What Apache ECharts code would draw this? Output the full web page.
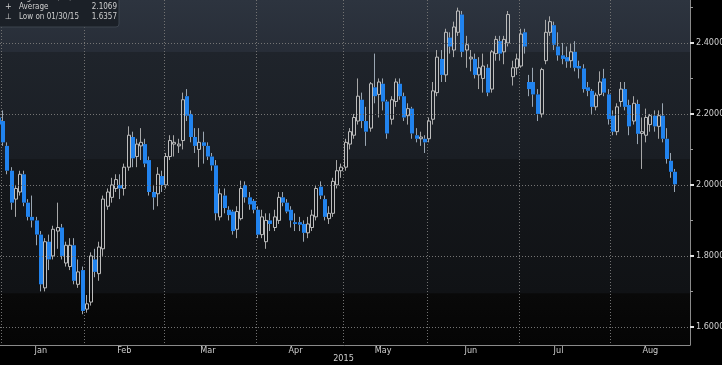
<!DOCTYPE html>
<html>
<head>
<meta charset="utf-8">
<script src="https://cdn.jsdelivr.net/npm/echarts@6/dist/echarts.min.js"></script>
<style>
html,body{margin:0;padding:0;background:#000;}
#chart{width:722px;height:365px;}
</style>
</head>
<body>
<div id="chart"></div>
<script>
// ---- data (daily candles, 2015) ----
const dates = ['2014-12-31',
'2015-01-02','2015-01-05','2015-01-06','2015-01-07','2015-01-08','2015-01-09','2015-01-12','2015-01-13','2015-01-14','2015-01-15','2015-01-16','2015-01-20','2015-01-21','2015-01-22','2015-01-23','2015-01-26','2015-01-27','2015-01-28','2015-01-29','2015-01-30',
'2015-02-02','2015-02-03','2015-02-04','2015-02-05','2015-02-06','2015-02-09','2015-02-10','2015-02-11','2015-02-12','2015-02-13','2015-02-17','2015-02-18','2015-02-19','2015-02-20','2015-02-23','2015-02-24','2015-02-25','2015-02-26','2015-02-27',
'2015-03-02','2015-03-03','2015-03-04','2015-03-05','2015-03-06','2015-03-09','2015-03-10','2015-03-11','2015-03-12','2015-03-13','2015-03-16','2015-03-17','2015-03-18','2015-03-19','2015-03-20','2015-03-23','2015-03-24','2015-03-25','2015-03-26','2015-03-27','2015-03-30','2015-03-31',
'2015-04-01','2015-04-02','2015-04-06','2015-04-07','2015-04-08','2015-04-09','2015-04-10','2015-04-13','2015-04-14','2015-04-15','2015-04-16','2015-04-17','2015-04-20','2015-04-21','2015-04-22','2015-04-23','2015-04-24','2015-04-27','2015-04-28','2015-04-29','2015-04-30',
'2015-05-01','2015-05-04','2015-05-05','2015-05-06','2015-05-07','2015-05-08','2015-05-11','2015-05-12','2015-05-13','2015-05-14','2015-05-15','2015-05-18','2015-05-19','2015-05-20','2015-05-21','2015-05-22','2015-05-26','2015-05-27','2015-05-28','2015-05-29',
'2015-06-01','2015-06-02','2015-06-03','2015-06-04','2015-06-05','2015-06-08','2015-06-09','2015-06-10','2015-06-11','2015-06-12','2015-06-15','2015-06-16','2015-06-17','2015-06-18','2015-06-19','2015-06-22','2015-06-23','2015-06-24','2015-06-25','2015-06-26','2015-06-29','2015-06-30',
'2015-07-01','2015-07-02','2015-07-06','2015-07-07','2015-07-08','2015-07-09','2015-07-10','2015-07-13','2015-07-14','2015-07-15','2015-07-16','2015-07-17','2015-07-20','2015-07-21','2015-07-22','2015-07-23','2015-07-24','2015-07-27','2015-07-28','2015-07-29','2015-07-30','2015-07-31',
'2015-08-03','2015-08-04','2015-08-05','2015-08-06','2015-08-07','2015-08-10','2015-08-11','2015-08-12','2015-08-13','2015-08-14','2015-08-17','2015-08-18','2015-08-19','2015-08-20','2015-08-21','2015-08-24'];

const opens = [2.19,
2.18,2.11,2.04,1.96,1.98,2.03,1.95,1.91,1.90,1.86,1.71,1.84,1.80,1.87,1.88,1.78,1.77,1.83,1.72,1.76,
1.65,1.67,1.79,1.75,1.82,1.94,1.965,1.99,2.00,1.99,2.05,2.135,2.08,2.11,2.115,2.07,1.98,1.975,2.025,
2.00,2.08,2.115,2.11,2.125,2.25,2.20,2.135,2.10,2.12,2.11,2.08,2.055,1.91,1.97,1.93,1.925,1.875,1.905,2.00,1.965,1.955,
1.93,1.86,1.84,1.90,1.88,1.90,1.965,1.95,1.93,1.895,1.895,1.89,1.865,1.88,1.91,1.995,1.96,1.905,1.92,2.00,2.04,
2.05,2.115,2.14,2.18,2.24,2.18,2.16,2.275,2.255,2.285,2.235,2.185,2.235,2.285,2.25,2.195,2.215,2.14,2.13,2.13,
2.13,2.185,2.26,2.355,2.31,2.415,2.38,2.43,2.48,2.38,2.355,2.355,2.31,2.30,2.33,2.27,2.37,2.405,2.375,2.40,2.305,2.33,
2.335,2.43,2.29,2.29,2.255,2.20,2.35,2.43,2.45,2.39,2.365,2.36,2.35,2.375,2.335,2.328,2.275,2.265,2.22,2.255,2.30,2.255,
2.195,2.15,2.235,2.27,2.225,2.18,2.228,2.145,2.14,2.17,2.195,2.165,2.195,2.13,2.068,2.037];

const highs = [2.21,
2.21,2.12,2.05,2.00,2.04,2.04,1.96,1.97,1.91,1.87,1.85,1.86,1.885,1.95,1.89,1.84,1.85,1.85,1.79,1.77,
1.69,1.81,1.82,1.84,1.97,1.99,2.02,2.03,2.03,2.06,2.165,2.15,2.13,2.16,2.13,2.08,2.00,2.05,2.04,
2.09,2.14,2.14,2.13,2.26,2.27,2.21,2.16,2.16,2.15,2.12,2.09,2.07,1.99,1.99,1.94,1.93,1.94,2.012,2.01,1.98,1.96,
1.94,1.93,1.92,1.92,1.93,1.98,1.98,1.96,1.94,1.92,1.91,1.90,1.91,1.93,2.00,2.01,1.97,1.94,2.02,2.07,2.06,
2.13,2.16,2.20,2.30,2.26,2.22,2.29,2.37,2.30,2.30,2.24,2.25,2.30,2.30,2.26,2.23,2.22,2.16,2.15,2.14,
2.19,2.29,2.38,2.38,2.44,2.43,2.46,2.4995,2.49,2.42,2.38,2.37,2.36,2.37,2.34,2.38,2.42,2.42,2.42,2.49,2.35,2.37,
2.44,2.44,2.31,2.33,2.27,2.33,2.465,2.475,2.46,2.43,2.40,2.39,2.40,2.405,2.35,2.34,2.29,2.27,2.26,2.32,2.327,2.27,
2.21,2.23,2.29,2.29,2.24,2.25,2.24,2.19,2.215,2.20,2.21,2.21,2.23,2.16,2.09,2.045];

const lows = [2.16,
2.11,2.03,1.93,1.91,1.97,1.94,1.90,1.88,1.83,1.70,1.70,1.76,1.79,1.82,1.79,1.77,1.76,1.72,1.71,1.6357,
1.64,1.66,1.74,1.73,1.80,1.93,1.95,1.98,1.96,1.97,2.04,2.05,2.05,2.07,2.05,1.97,1.93,1.94,1.98,
1.99,2.07,2.08,2.09,2.10,2.18,2.12,2.09,2.05,2.06,2.07,2.04,1.90,1.90,1.92,1.90,1.86,1.85,1.90,1.95,1.93,1.92,
1.85,1.85,1.82,1.87,1.87,1.89,1.94,1.92,1.88,1.87,1.87,1.84,1.85,1.87,1.90,1.96,1.90,1.89,1.91,1.99,2.02,
2.04,2.10,2.13,2.17,2.16,2.11,2.15,2.23,2.19,2.21,2.13,2.17,2.22,2.24,2.18,2.17,2.13,2.12,2.11,2.09,
2.12,2.17,2.25,2.29,2.29,2.37,2.36,2.42,2.36,2.33,2.32,2.30,2.27,2.26,2.25,2.26,2.35,2.35,2.34,2.39,2.28,2.31,
2.33,2.37,2.25,2.22,2.18,2.19,2.34,2.42,2.38,2.35,2.34,2.33,2.33,2.32,2.30,2.26,2.25,2.20,2.21,2.25,2.25,2.17,
2.14,2.14,2.22,2.21,2.14,2.17,2.115,2.045,2.12,2.15,2.15,2.13,2.12,2.06,2.02,1.98];

const closes = [2.17,
2.12,2.04,1.95,1.99,2.03,1.95,1.91,1.90,1.86,1.72,1.84,1.79,1.875,1.88,1.80,1.83,1.83,1.73,1.755,1.645,
1.665,1.80,1.755,1.825,1.96,1.98,2.00,2.015,1.99,2.05,2.14,2.075,2.115,2.12,2.06,1.98,1.965,2.03,2.00,
2.08,2.125,2.12,2.115,2.24,2.195,2.135,2.11,2.12,2.11,2.08,2.055,1.92,1.975,1.935,1.915,1.87,1.925,1.99,1.965,1.945,1.93,
1.86,1.91,1.90,1.89,1.91,1.965,1.95,1.925,1.90,1.89,1.888,1.865,1.89,1.915,1.99,1.97,1.91,1.92,2.01,2.04,2.05,
2.12,2.15,2.19,2.25,2.18,2.15,2.285,2.25,2.29,2.235,2.145,2.24,2.29,2.25,2.19,2.215,2.145,2.13,2.135,2.12,
2.18,2.265,2.36,2.31,2.43,2.39,2.445,2.49,2.375,2.395,2.36,2.31,2.33,2.335,2.26,2.375,2.41,2.37,2.41,2.48,2.33,2.355,
2.425,2.39,2.27,2.255,2.20,2.325,2.43,2.46,2.395,2.365,2.355,2.348,2.375,2.33,2.328,2.27,2.265,2.22,2.253,2.29,2.26,2.185,
2.15,2.22,2.27,2.22,2.165,2.23,2.144,2.15,2.19,2.195,2.165,2.195,2.13,2.073,2.037,2.0017];

const monthNames = ['Jan','Feb','Mar','Apr','May','Jun','Jul','Aug'];
const monthLabelDates = ['2015-01-15','2015-02-13','2015-03-16','2015-04-15','2015-05-14','2015-06-15','2015-07-15','2015-08-14'];
const yMajorTicks = [1.6, 1.8, 2.0, 2.2, 2.4];
const yMinorTicks = [1.7, 1.9, 2.1, 2.3, 2.5];
const yearLabel = '2015';
const legendLines = [
  {mark:'\u22A4', text:'High on 06/10/15', value:'2.4995'},
  {mark:'+', text:'Average', value:'2.1069'},
  {mark:'\u22A5', text:'Low on 01/30/15', value:'1.6357'}
];
const padSlots = 3;

// ---- build ----
const axisCats = dates.concat(Array(padSlots).fill(''));
const ohlc = dates.map((d, i) => [i, opens[i], highs[i], lows[i], closes[i]]);
const lastClose = closes[closes.length - 1];

const BLUE = '#2183ee';
const HOLLOW = '#bdbdbd';
const TXT = '#cfcfcf';
const FONT = "'Liberation Sans Narrow','DejaVu Sans Condensed','Roboto Condensed',sans-serif";

function renderItem(params, api) {
  const i = api.value(0);
  const o = api.value(1), h = api.value(2), l = api.value(3), c = api.value(4);
  const po = api.coord([i, o]);
  const x = po[0];
  const yo = po[1];
  const yc = api.coord([i, c])[1];
  const yh = api.coord([i, h])[1];
  const yl = api.coord([i, l])[1];
  const n = Math.round(x);
  const top = Math.min(yo, yc), bot = Math.max(yo, yc);
  const up = c >= o;
  const wick = up ? '#a8a8a8' : '#9aa6b2';
  const children = [
    {type:'line', shape:{x1:n-0.5, y1:yh, x2:n-0.5, y2:top}, style:{stroke:wick, lineWidth:1}},
    {type:'line', shape:{x1:n-0.5, y1:bot, x2:n-0.5, y2:yl}, style:{stroke:wick, lineWidth:1}}
  ];
  if (up) {
    children.push({type:'rect', shape:{x:n-1.5, y:top, width:3, height:Math.max(bot-top, 1)},
      style:{fill:'rgba(0,0,0,0)', stroke:HOLLOW, lineWidth:1}});
  } else {
    children.push({type:'rect', shape:{x:n-2, y:top, width:4, height:Math.max(bot-top, 1.2)},
      style:{fill:BLUE}});
  }
  return {type:'group', children};
}

const monthStart = axisCats.map((d, i) => i > 0 && d !== '' && d.slice(0,7) !== axisCats[i-1].slice(0,7));

const chart = echarts.init(document.getElementById('chart'), null, {renderer:'canvas'});

const legendGraphic = [
  {type:'rect', shape:{x:-2, y:-2, width:121, height:29, r:[0,0,3,0]},
   style:{fill:'#1b2027', stroke:'#3d444e', lineWidth:1}, z:100}
];
legendLines.forEach((ln, k) => {
  const y = -2.5 + k * 9.5;
  legendGraphic.push({type:'text', x:5, y:y, z:101,
    style:{text:ln.mark, fill:TXT, font:"8px 'DejaVu Sans'", textVerticalAlign:'middle'}});
  legendGraphic.push({type:'text', x:19, y:y, z:101,
    style:{text:ln.text, fill:TXT, font:"8px " + FONT, textVerticalAlign:'middle'}});
  legendGraphic.push({type:'text', x:117, y:y, z:101,
    style:{text:ln.value, fill:TXT, font:"8px " + FONT, textAlign:'right', textVerticalAlign:'middle'}});
});

chart.setOption({
  animation:false,
  backgroundColor:'#000',
  grid:{left:-3, right:32, top:0, bottom:20, show:true, borderWidth:0,
    containLabel:false, outerBoundsMode:'none',
    backgroundColor:new echarts.graphic.LinearGradient(0,0,0,1,[
      {offset:0, color:'#2d343f'},
      {offset:0.15, color:'#272d37'},
      {offset:0.151, color:'#1f242b'},
      {offset:0.46, color:'#1a1e24'},
      {offset:0.461, color:'#15181c'},
      {offset:0.85, color:'#101215'},
      {offset:0.851, color:'#090909'},
      {offset:1, color:'#050505'}
    ])},
  xAxis:{
    type:'category', data:axisCats, boundaryGap:true,
    axisLine:{show:true, lineStyle:{color:'#8a8a8a', width:1}},
    axisTick:{show:false},
    axisLabel:{
      interval:(i, v) => monthLabelDates.indexOf(v) >= 0,
      formatter:(v) => monthNames[monthLabelDates.indexOf(v)],
      color:TXT, fontSize:9, fontFamily:FONT, margin:1
    },
    splitLine:{show:true, interval:(i) => monthStart[i],
      lineStyle:{color:'#727272', type:[1,2], width:1}},
    name:yearLabel, nameLocation:'middle', nameGap:9, nameMoveOverlap:false,
    nameTextStyle:{color:TXT, fontSize:9, fontFamily:FONT}
  },
  yAxis:[{
    type:'value', position:'right', min:1.549, max:2.521,
    axisLine:{show:true, lineStyle:{color:'#8a8a8a'}},
    axisTick:{show:true, customValues:yMajorTicks, length:4, lineStyle:{color:'#e0e0e0', width:2}},
    axisLabel:{customValues:yMajorTicks, formatter:(v) => v.toFixed(4), color:TXT, fontSize:9, fontFamily:FONT, margin:6},
    splitLine:{show:false}
  },{
    type:'value', position:'right', min:1.549, max:2.521,
    axisLine:{show:false},
    axisTick:{show:true, customValues:yMinorTicks, length:3, lineStyle:{color:'#9a9a9a'}},
    axisLabel:{show:false},
    splitLine:{show:false}
  }],
  graphic:legendGraphic,
  series:[{
    type:'line', data:[], yAxisIndex:0, silent:true, z:1,
    markLine:{silent:true, symbol:['none','none'], animation:false,
      label:{show:false},
      lineStyle:{color:'#747474', type:[1,2], width:1},
      data:yMajorTicks.map(v => ({yAxis:v}))}
  },{
    type:'custom', renderItem:renderItem, data:ohlc, z:2, clip:true,
    encode:{x:0, y:[1,2,3,4]},
    markLine:{silent:true, symbol:['none','none'], animation:false,
      lineStyle:{opacity:0},
      label:{show:true, position:'end', distance:5, formatter:lastClose.toFixed(4),
        backgroundColor:'#f2f2f2', color:'#000', fontSize:9, fontFamily:FONT, padding:[2,2,1,2]},
      data:[{yAxis:lastClose}]}
  }]
});
</script>
</body>
</html>
